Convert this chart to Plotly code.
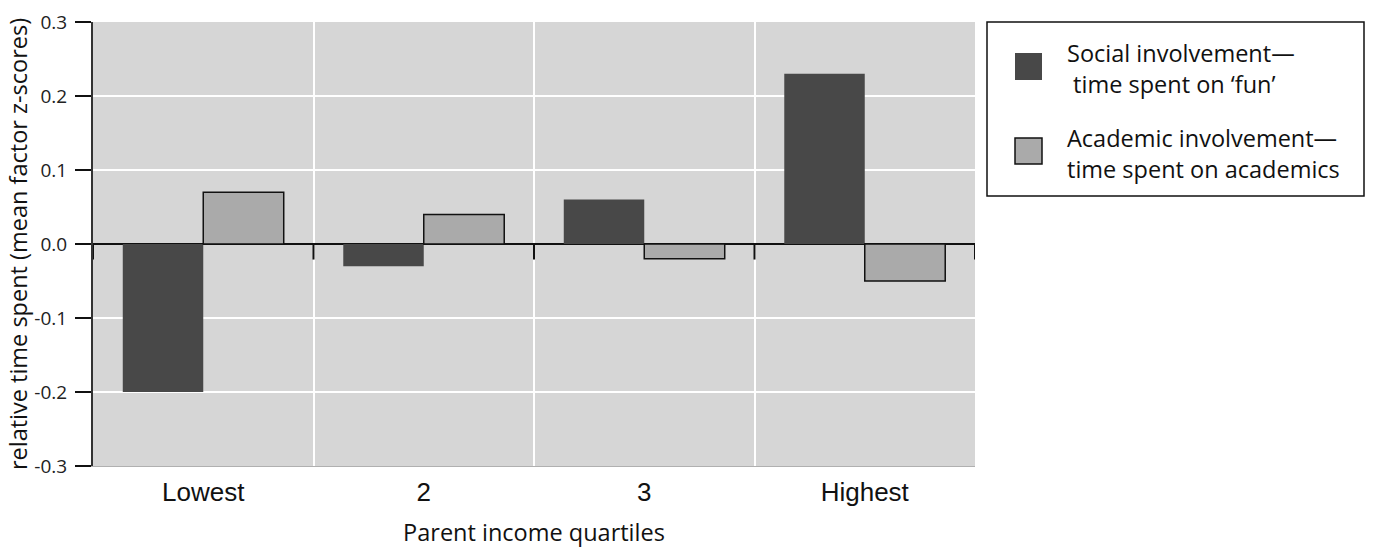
import plotly.graph_objects as go

categories = ["Lowest", "2", "3", "Highest"]
social = [-0.20, -0.03, 0.06, 0.23]
academic = [0.07, 0.04, -0.02, -0.05]
series_names = ["Social involvement—<br> time spent on ‘fun’",
                "Academic involvement—<br>time spent on academics"]
y_ticks = [-0.3, -0.2, -0.1, 0.0, 0.1, 0.2, 0.3]
y_tick_labels = ["-0.3", "-0.2", "-0.1", "0.0", "0.1", "0.2", "0.3"]

DARK = "#484848"
LIGHT = "#aaaaaa"
HUM = "'Open Sans', Lato, sans-serif"
ARIAL = "'Liberation Sans', Arial, sans-serif"

FIG_W, FIG_H = 1373, 548
PL, PR, PT, PB = 93, 975, 22, 466  # plot area in pixels

fig = go.Figure()
fig.add_bar(x=categories, y=social, marker=dict(color=DARK, line=dict(width=0)),
            name="Social", showlegend=False)
fig.add_bar(x=categories, y=academic, marker=dict(color=LIGHT, line=dict(color="#111", width=1.5)),
            name="Academic", showlegend=False)

# short ticks below the zero line at category boundaries
n = len(categories)
for i in range(n + 1):
    fig.add_shape(type="line", xref="x", yref="y", x0=i - 0.5, x1=i - 0.5,
                  y0=0, y1=-0.021, line=dict(color="#111", width=2), layer="above")

# manual legend (paper coords computed from pixels)
W, H = float(PR - PL), float(PB - PT)
def px(x):
    return (x - PL) / W
def py(y):
    return (PB - y) / H

fig.add_shape(type="rect", xref="paper", yref="paper", x0=px(987), x1=px(1364),
              y0=py(196), y1=py(22), line=dict(color="#111", width=1.5), fillcolor="white")
fig.add_shape(type="rect", xref="paper", yref="paper", x0=px(1015), x1=px(1042),
              y0=py(80), y1=py(53), line=dict(width=0), fillcolor=DARK)
fig.add_shape(type="rect", xref="paper", yref="paper", x0=px(1015), x1=px(1042),
              y0=py(164), y1=py(138), line=dict(color="#111", width=1.5), fillcolor=LIGHT)
for name, yc in zip(series_names, [68, 153]):
    fig.add_annotation(xref="paper", yref="paper", x=px(1065), y=py(yc), text=name,
                       showarrow=False, xanchor="left", yanchor="middle", align="left",
                       font=dict(family=HUM, size=23.5, color="#111"))

fig.update_layout(
    width=FIG_W, height=FIG_H,
    margin=dict(l=PL, r=FIG_W - PR, t=PT, b=FIG_H - PB, pad=0),
    paper_bgcolor="white", plot_bgcolor="#d6d6d6",
    barmode="group", bargap=0.27, bargroupgap=0,
    xaxis=dict(type="category", tickson="boundaries", showgrid=True, gridcolor="white",
               gridwidth=2, ticks="", showline=True, linecolor="#b0b0b0", linewidth=1,
               automargin=False, ticklabelstandoff=3,
               tickfont=dict(family=ARIAL, size=26, color="#111"),
               title=dict(text="Parent income quartiles", font=dict(family=HUM, size=23.5, color="#111"),
                          standoff=33),
               range=[-0.5, n - 0.5], zeroline=False),
    yaxis=dict(range=[-0.3, 0.3], tickvals=y_ticks, ticktext=y_tick_labels, showgrid=True,
               gridcolor="white", gridwidth=1.5, ticks="outside", ticklen=16, tickwidth=1.5,
               tickcolor="#111", showline=True, linecolor="#333", linewidth=2,
               ticklabelstandoff=4,
               zeroline=True, zerolinecolor="#111", zerolinewidth=1.5, automargin=False,
               tickfont=dict(family=HUM, size=19, color="#222"),
               title=dict(text="relative time spent (mean factor z-scores)",
                          font=dict(family=HUM, size=23.5, color="#111"), standoff=0)),
)

fig.write_html("out.html", config={"displayModeBar": False},
               post_script="document.body.style.margin='0';document.body.style.overflow='hidden';")
